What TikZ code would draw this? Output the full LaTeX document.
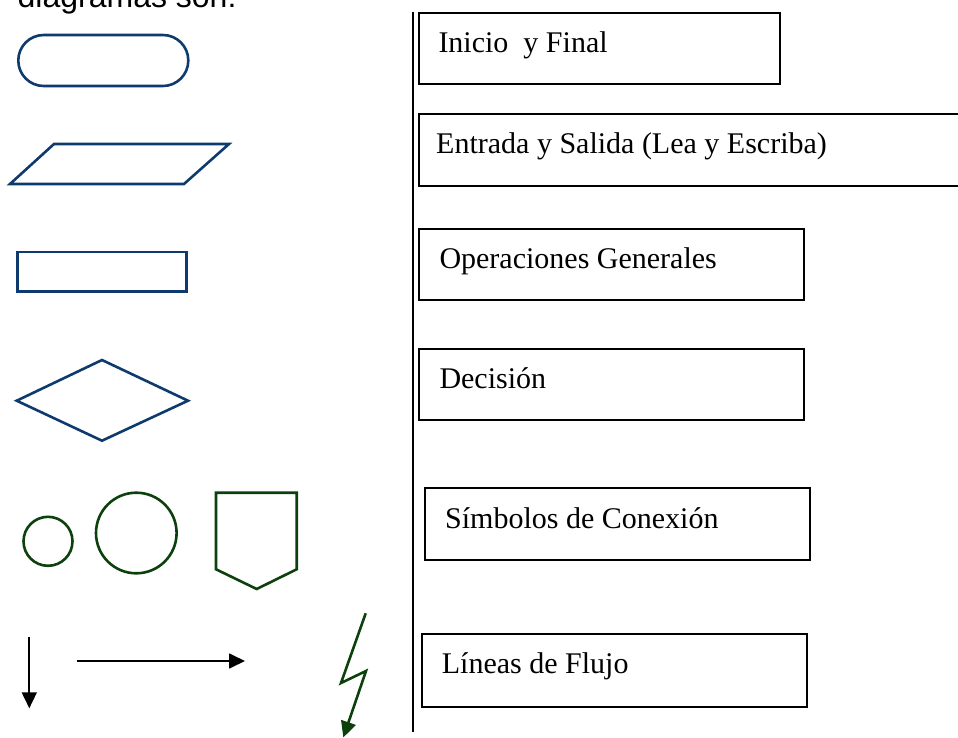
\documentclass[tikz,border=0pt]{standalone}
\usepackage{fontspec}
\setmainfont{Liberation Serif}
\newfontfamily\arialfont{Liberation Sans}
\usepackage{tikz}
\usetikzlibrary{arrows.meta}
\definecolor{azul}{RGB}{14,58,110}
\definecolor{verde}{RGB}{12,64,12}
\tikzset{
	caja/.style={draw, rectangle, line width=2pt, anchor=north west, inner sep=0pt},
	rotulo/.style={anchor=base west, inner sep=0pt, font=\fontsize{30}{36}\selectfont},
	forma/.style={line width=2.6pt, color=azul},
	conector/.style={line width=2.6pt, color=verde},
	punta/.style={-{Triangle[length=16pt, width=15pt]}}
}

\begin{document}
\begin{tikzpicture}[x=1pt, y=-1pt]
		\useasboundingbox (0,0) rectangle (958,738);
		\node[anchor=base west, inner sep=0pt, font=\arialfont\fontsize{32}{38}\selectfont] (titulo) at (17.5,7.5) {diagramas son:};
		% simbolos
		\draw [forma, rounded corners=25.4pt] (18.3,35) rectangle (188.3,86);
		\draw [forma] (10,184) -- (54,144) -- (229,144) -- (184,184) -- cycle;
		\draw [forma] (17.3,252) rectangle (186.7,291.7);
		\draw [forma] (16.7,400.7) -- (102,360) -- (188,400.7) -- (102,440.7) -- cycle;
		\draw [conector] (48,541.3) circle (24.5);
		\draw [conector] (136.3,533) circle (40.3);
		\draw [conector] (216,492.7) -- (296.7,492.7) -- (296.7,569.3) -- (256.7,589) -- (216,569.3) -- cycle;
		\draw [punta, line width=1.7pt] (29.3,636.7) -- (29.3,708.3);
		\draw [punta, line width=1.7pt] (76.7,661) -- (245,661);
		\draw [punta, conector] (365.7,613.3) -- (341,683) -- (366,671) -- (343.3,737.5);
		% separador
		\draw [line width=2.2pt] (413,11.7) -- (413,732);
		% cajas
		\node[caja, minimum width=361pt, minimum height=71.6pt] (inicio) at (418.3,11.7) {};
		\node[caja, minimum width=560pt, minimum height=71.7pt] (entrada) at (418.3,113.3) {};
		\node[caja, minimum width=385pt, minimum height=71.6pt] (operacion) at (418.3,227.7) {};
		\node[caja, minimum width=385pt, minimum height=71.6pt] (decision) at (418.3,347.7) {};
		\node[caja, minimum width=385.3pt, minimum height=72.6pt] (conexion) at (424,486.7) {};
		\node[caja, minimum width=385pt, minimum height=72.7pt] (flujo) at (420.7,633.3) {};
		\node[rotulo] (tinicio) at (438.3,52.3) {Inicio\ \ y Final};
		\node[rotulo] (tentrada) at (436,153.3) {Entrada y Salida (Lea y Escriba)};
		\node[rotulo] (toperacion) at (439.3,268.3) {Operaciones Generales};
		\node[rotulo] (tdecision) at (439.3,388.3) {Decisión};
		\node[rotulo] (tconexion) at (445,528.3) {Símbolos de Conexión};
		\node[rotulo] (tflujo) at (441.7,673.3) {Líneas de Flujo};
	\end{tikzpicture}
\end{document}
